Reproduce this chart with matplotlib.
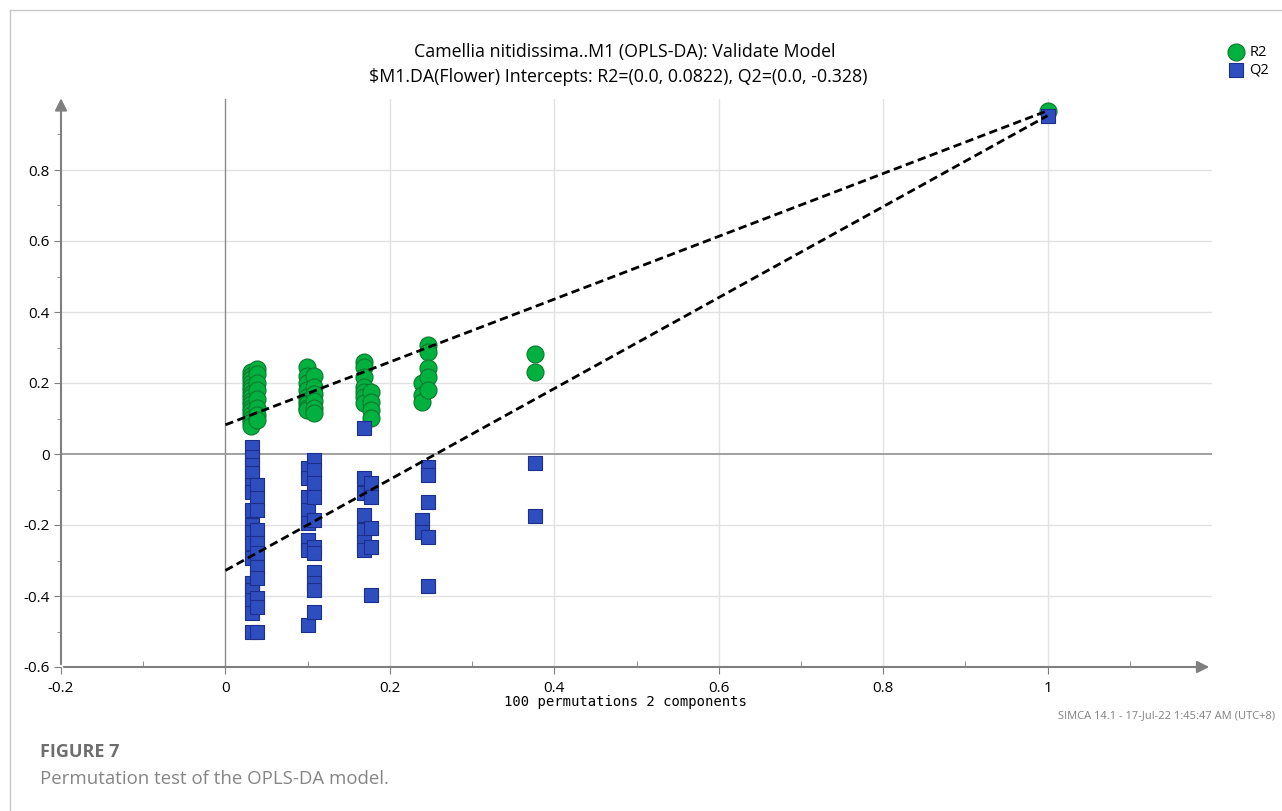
import matplotlib.pyplot as plt
import numpy as np

# correlation of permuted y with original y (x) and R2 / Q2 of each model (y)
r2_x = [0.031] * 16 + [0.039] * 8 + [0.099] * 9 + [0.108] * 6 \
     + [0.168] * 7 + [0.177] * 4 + [0.239] * 3 + [0.247] * 5 + [0.377] * 2 + [1.0]
r2_y = [0.23, 0.22, 0.21, 0.20, 0.19, 0.18, 0.17, 0.16, 0.15, 0.14, 0.13, 0.12, 0.11, 0.10, 0.09, 0.08,
        0.24, 0.225, 0.20, 0.18, 0.155, 0.13, 0.11, 0.095,
        0.245, 0.22, 0.20, 0.18, 0.16, 0.15, 0.14, 0.13, 0.125,
        0.22, 0.19, 0.17, 0.15, 0.13, 0.115,
        0.259, 0.245, 0.218, 0.19, 0.176, 0.16, 0.143,
        0.176, 0.147, 0.124, 0.101,
        0.20, 0.166, 0.147,
        0.307, 0.288, 0.242, 0.218, 0.18,
        0.282, 0.23,
        0.967]

q2_x = [0.032] * 16 + [0.039] * 11 + [0.100] * 8 + [0.108] * 11 \
     + [0.169] * 7 + [0.177] * 5 + [0.239] * 2 + [0.247] * 5 + [0.377] * 2 + [1.0]
q2_y = [0.021, -0.008, -0.031, -0.054, -0.087, -0.106, -0.158, -0.20, -0.219, -0.252,
        -0.294, -0.364, -0.383, -0.411, -0.449, -0.50,
        -0.087, -0.125, -0.158, -0.214, -0.252, -0.28, -0.317, -0.35, -0.407, -0.43, -0.50,
        -0.04, -0.069, -0.12, -0.158, -0.195, -0.242, -0.27, -0.482,
        -0.017, -0.045, -0.083, -0.12, -0.186, -0.261, -0.28, -0.331, -0.364, -0.383, -0.444,
        0.072, -0.069, -0.111, -0.172, -0.214, -0.247, -0.27,
        -0.083, -0.12, -0.209, -0.261, -0.397,
        -0.186, -0.219,
        -0.036, -0.059, -0.134, -0.233, -0.372,
        -0.025, -0.175,
        0.953]

# intercepts reported by SIMCA
r2_icpt = 0.0822
q2_icpt = -0.328

x_ticks = [-0.2, 0, 0.2, 0.4, 0.6, 0.8, 1]
x_labels = ["-0.2", "0", "0.2", "0.4", "0.6", "0.8", "1"]
y_ticks = [-0.6, -0.4, -0.2, 0, 0.2, 0.4, 0.6, 0.8]
y_labels = ["-0.6", "-0.4", "-0.2", "0", "0.2", "0.4", "0.6", "0.8"]

GREEN = "#00B140"
GREEN_EDGE = "#0A7A2C"
BLUE = "#2E4DBF"
BLUE_EDGE = "#1C2F8C"
AXIS_GRAY = "#7F7F7F"

plt.rcParams['font.family'] = ['Open Sans', 'DejaVu Sans']


def grafico_permutaciones():
    fig = plt.figure(figsize=(12.82, 8.11), dpi=100)
    ax = fig.add_axes([61 / 1282, 144 / 811, 1151 / 1282, 568 / 811])
    ax.set_xlim(-0.2, 1.2)
    ax.set_ylim(-0.6, 1.0)

    # grid
    for gx in [0.2, 0.4, 0.6, 0.8, 1.0]:
        ax.axvline(gx, color="#E2E2E2", lw=1, zorder=0)
    for gy in [-0.4, -0.2, 0.2, 0.4, 0.6, 0.8]:
        ax.axhline(gy, color="#E2E2E2", lw=1, zorder=0)
    ax.axvline(0, color="#8A8A8A", lw=1, zorder=0.5)
    ax.axhline(0, color="#9A9A9A", lw=1.3, zorder=0.5)

    for s in ax.spines.values():
        s.set_visible(False)
    # axes with arrows
    ax.annotate("", xy=(-0.2, 1.01), xytext=(-0.2, -0.6),
                arrowprops=dict(arrowstyle="-|>", color=AXIS_GRAY, lw=1.5, mutation_scale=18),
                annotation_clip=False)
    ax.annotate("", xy=(1.2, -0.6), xytext=(-0.2, -0.6),
                arrowprops=dict(arrowstyle="-|>", color=AXIS_GRAY, lw=1.5, mutation_scale=18),
                annotation_clip=False)

    ax.scatter(r2_x, r2_y, s=150, marker="o", color=GREEN, edgecolors=GREEN_EDGE,
               linewidths=0.8, zorder=3, label="R2", clip_on=False)
    ax.scatter(q2_x, q2_y, s=110, marker="s", color=BLUE, edgecolors=BLUE_EDGE,
               linewidths=0.8, zorder=3, label="Q2", clip_on=False)

    # regression lines through the intercepts and the original model
    ax.plot([0, 1], [r2_icpt, r2_y[-1]], color="black", lw=2, dashes=(3, 1.6), zorder=4)
    ax.plot([0, 1], [q2_icpt, q2_y[-1]], color="black", lw=2, dashes=(3, 1.6), zorder=4)

    ax.set_xticks(x_ticks, x_labels)
    ax.set_yticks(y_ticks, y_labels)
    ax.set_xticks(np.arange(-0.1, 1.15, 0.2), minor=True)
    ax.set_yticks(np.arange(-0.5, 0.95, 0.2), minor=True)
    ax.tick_params(axis="x", which="major", direction="out", length=5, color=AXIS_GRAY,
                   pad=5, labelsize=11)
    ax.tick_params(axis="x", which="minor", direction="in", length=4, color=AXIS_GRAY)
    ax.tick_params(axis="y", which="major", direction="out", length=5, color=AXIS_GRAY,
                   pad=3, labelsize=11)
    ax.tick_params(axis="y", which="minor", direction="out", length=3, color=AXIS_GRAY)

    fig.text(625 / 1282, 1 - 702 / 811, "100 permutations 2 components",
             family="DejaVu Sans Mono", fontsize=10, ha="center", va="center")

    fig.text(625 / 1282, 1 - 52 / 811, "Camellia nitidissima..M1 (OPLS-DA): Validate Model",
             ha="center", va="center", fontsize=12.8)
    fig.text(618 / 1282, 1 - 77 / 811,
             "$M1.DA(Flower) Intercepts: R2=(0.0, 0.0822), Q2=(0.0, -0.328)",
             ha="center", va="center", fontsize=12.8, parse_math=False)

    fig.legend(loc="upper left", bbox_to_anchor=(1223 / 1282, 1 - 39 / 811), frameon=False,
               fontsize=10.5, handletextpad=0.4, labelspacing=0.2, borderaxespad=0,
               handlelength=1.0)

    fig.text(1275 / 1282, 1 - 716 / 811, "SIMCA 14.1 - 17-Jul-22 1:45:47 AM (UTC+8)",
             ha="right", va="center", fontsize=8, color="#808080")

    fig.text(40 / 1282, 1 - 752 / 811, "FIGURE 7", ha="left", va="center",
             fontsize=13, fontweight="bold", color="#6E6E6E")
    fig.text(40 / 1282, 1 - 779 / 811, "Permutation test of the OPLS-DA model.",
             ha="left", va="center", fontsize=13.4, color="#858585")

    # page frame
    fig.add_artist(plt.Line2D([10 / 1282, 1], [1 - 10 / 811, 1 - 10 / 811],
                              color="#C8C8C8", lw=1, transform=fig.transFigure))
    fig.add_artist(plt.Line2D([10 / 1282, 10 / 1282], [0, 1 - 10 / 811],
                              color="#C8C8C8", lw=1, transform=fig.transFigure))

    fig.savefig("out.png", dpi=100)


if __name__ == '__main__':
    grafico_permutaciones()
